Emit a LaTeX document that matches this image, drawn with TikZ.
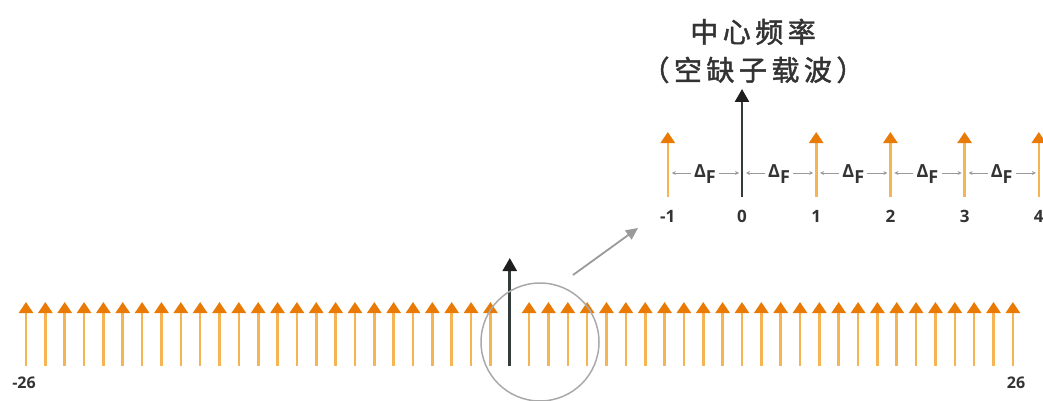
\documentclass[tikz,border=0pt]{standalone}
\usepackage{fontspec}
\newfontfamily\cjk[LetterSpace=16, FakeBold=1.6]{Noto Sans CJK SC}
\newfontfamily\numfont{Open Sans}
\usetikzlibrary{positioning, arrows.meta}
\definecolor{subc}{HTML}{F7B455}
\definecolor{subtip}{HTML}{E87A05}
\definecolor{dcc}{HTML}{343B3B}
\definecolor{txt}{HTML}{333333}
\definecolor{ptr}{HTML}{9A9A9A}

\begin{document}
\begin{tikzpicture}[
  x=1pt, y=-1pt,
  sub/.style={line width=2.6pt, draw=subc, -{Triangle[length=11pt, width=14pt, color=subtip]}},
  dc/.style={line width=2.6pt, draw=dcc, -{Triangle[length=13pt, width=14pt, color=black!88]}},
  num/.style={font=\numfont\bfseries\fontsize{16}{16}\selectfont, text=txt, inner sep=0pt},
  numtop/.style={num, font=\numfont\bfseries\fontsize{17}{17}\selectfont},
  dlt/.style={font=\numfont\bfseries\fontsize{18}{18}\selectfont, text=txt, inner sep=3pt, anchor=base},
  dim/.style={draw=ptr, line width=0.8pt, -{Stealth[length=4pt, width=4pt]}},
  ptrline/.style={draw=ptr, line width=1.8pt, -{Triangle[length=12pt, width=11pt]}},
]
\useasboundingbox (0,0) rectangle (1043,401);

% --- all subcarriers ---
\foreach \i in {0,...,51} {
  \coordinate (b\i) at ({26+19.35*\i},366);
  \ifnum\i=25
    \coordinate (a\i) at ({26+19.35*\i},258);
    \draw[dc] (b\i) -- (a\i);
  \else
    \coordinate (a\i) at ({26+19.35*\i},302);
    \draw[sub] (b\i) -- (a\i);
  \fi
}
\node[num, anchor=base] (lo) at (24,388) {-26};
\node[num, anchor=base] (hi) at (1016,388) {26};

% --- zoom circle and pointer ---
\node[circle, draw=ptr!85, line width=1.5pt, minimum size=118pt, inner sep=0pt] (zoom) at (540,342) {};
\coordinate (p0) at (573,275);
\coordinate (p1) at (638,228);
\draw[ptrline] (p0) -- (p1);

% --- enlarged view ---
\foreach \i in {0,...,5} {
  \coordinate (s\i) at ({667.8+74.2*\i},197);
  \coordinate (l\i) at ({667.8+74.2*\i},173);
  \ifnum\i=1
    \coordinate (t\i) at ({667.8+74.2*\i},89);
    \draw[dc] (s\i) -- (t\i);
  \else
    \coordinate (t\i) at ({667.8+74.2*\i},132);
    \draw[sub] (s\i) -- (t\i);
  \fi
  \pgfmathtruncatemacro{\k}{\i-1}
  \node[numtop, anchor=base] (n\i) at ({667.8+74.2*\i},222) {\k};
}
\foreach \i [evaluate=\i as \j using int(\i+1)] in {0,...,4} {
  \node[dlt] (df\i) at ({667.8+74.2*(\i+0.5)},177) {Δ\raisebox{-6pt}{F}};
  \draw[dim] (df\i.west |- l\i) -- ([xshift=4pt]l\i);
  \draw[dim] (df\i.east |- l\i) -- ([xshift=-3pt]l\j);
}

% --- title ---
\node[font=\cjk\fontsize{28}{38}\selectfont, text=txt, align=center] (title) at (753,51)
      {中心频率\\（空缺子载波）};
\end{tikzpicture}
\end{document}
